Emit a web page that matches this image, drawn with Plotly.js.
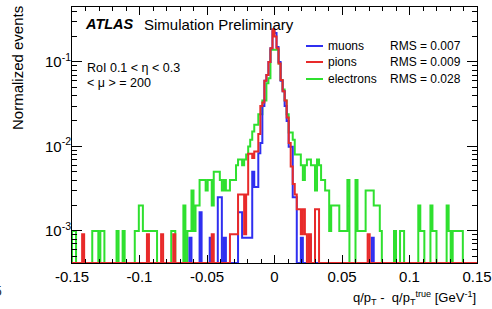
<!DOCTYPE html>
<html>
<head>
<meta charset="utf-8">
<script src="https://cdn.plot.ly/plotly-3.0.1.min.js"></script>
<style>
html,body{margin:0;padding:0;background:#fff;}
#chart{width:492px;height:309px;}
</style>
</head>
<body>
<div id="chart"></div>
<script>
// Histogram binning (q/pT - q/pT^true, GeV^-1)
const xMin = -0.15;
const xMax = 0.15;
const nBins = 200;

// Normalized events per bin
const electrons = [
0.001,0.001,0,0,0,0,0,0,0,0,
0.001,0.001,0.001,0,0.001,0.001,0,0,0,0,
0,0,0.001,0,0,0.001,0,0,0,0,
0,0.001,0.001,0.002,0.002,0.001,0.001,0.001,0.001,0.001,
0.001,0.001,0,0,0,0,0,0,0,0.001,
0.001,0,0,0,0,0.002,0,0.001,0.001,0.003,
0.001,0.002,0.002,0.004,0.004,0.004,0.003,0.004,0.004,0.002,
0.005,0.005,0.005,0.004,0.003,0.004,0.003,0.003,0.004,0.004,
0.004,0.006,0.007,0.007,0.006,0.007,0.008,0.010,0.012,0.015,
0.018,0.018,0.024,0.024,0.035,0.035,0.056,0.064,0.139,0.139,
0.139,0.139,0.096,0.061,0.047,0.035,0.024,0.0146,0.0146,0.012,
0.008,0.008,0.008,0.006,0.004,0.006,0.007,0.007,0.006,0.006,
0.003,0.007,0.006,0.004,0.004,0.003,0.003,0.001,0.002,0.002,
0.002,0.002,0.001,0.001,0.001,0.001,0.004,0,0,0,
0.004,0.001,0.001,0.001,0.001,0.003,0.003,0.003,0.003,0.002,
0.002,0.002,0.001,0,0,0,0,0,0,0.001,
0,0,0.001,0.001,0,0,0,0,0,0,
0,0.002,0.001,0.001,0,0,0,0.002,0.001,0.001,
0,0,0,0,0,0.002,0.001,0,0.001,0.001,
0.001,0.001,0.001,0,0,0,0,0,0,0
];

const pions = [
0,0,0,0,0,0.00091,0,0,0,0,
0,0,0,0,0,0,0,0,0,0,
0,0,0,0,0,0,0,0,0,0,
0,0,0,0,0,0,0,0.00091,0,0,
0,0,0,0,0.00091,0,0,0,0,0,
0.00091,0,0,0,0,0,0,0,0,0,
0,0,0,0,0,0,0,0,0,0.00091,
0,0,0,0,0,0,0,0,0.00091,0.00091,
0.00091,0.00091,0.0027,0.0027,0.0027,0.00091,0.0027,0.0082,0.0082,0.0073,
0.0087,0.0087,0.014,0.030,0.033,0.060,0.070,0.100,0.145,0.244,
0.200,0.145,0.096,0.061,0.045,0.035,0.022,0.011,0.0058,0.0036,
0.0027,0.0018,0.0018,0.00091,0.0018,0.00091,0,0.00091,0,0,
0.0018,0.0018,0,0,0,0,0,0,0,0,
0,0,0,0,0,0,0,0,0,0,
0,0,0,0,0,0,0.00091,0,0,0,
0,0,0,0,0,0,0,0,0,0,
0,0,0,0,0,0,0,0,0,0,
0,0,0,0,0,0,0,0,0,0,
0,0,0,0,0,0,0,0,0,0,
0,0,0,0,0,0,0,0,0,0
];

const muons = [
0,0,0,0,0,0,0,0,0,0,
0,0,0,0,0,0,0,0,0,0,
0,0,0,0,0,0,0,0,0,0,
0,0,0,0,0,0,0,0,0,0,
0,0,0,0,0,0,0,0,0,0,
0,0,0,0,0,0,0,0,0.00083,0,
0,0,0,0.00166,0,0,0,0,0.00083,0,
0,0,0.0025,0.0025,0,0.00083,0,0,0,0,
0,0,0.00166,0.00166,0.00083,0.00083,0.00083,0.00083,0.00083,0.005,
0.0033,0.0033,0.0083,0.011,0.030,0.060,0.070,0.100,0.145,0.230,
0.220,0.150,0.100,0.060,0.045,0.030,0.020,0.0099,0.0099,0.0025,
0.0025,0,0,0.00083,0,0,0,0.00083,0,0,
0,0,0,0,0,0,0,0,0,0,
0,0,0,0,0,0,0,0,0,0,
0,0,0,0,0,0,0,0,0.00083,0,
0,0,0,0,0,0,0,0,0,0,
0,0,0,0,0,0,0,0,0,0,
0,0,0,0,0,0,0,0,0,0,
0,0,0,0,0,0,0,0,0,0,
0,0,0,0,0,0,0,0,0,0
];

const seriesNames = ["muons", "pions", "electrons"];
const rmsLabels = ["RMS = 0.007", "RMS = 0.009", "RMS = 0.028"];
const seriesColors = ["#2f2ff0", "#e82a2a", "#2fe02f"];

const xTickVals = [-0.15, -0.1, -0.05, 0, 0.05, 0.1, 0.15];
const xTickText = ["-0.15", "-0.1", "-0.05", "0", "0.05", "0.1", "0.15"];
const yTickVals = [0.001, 0.01, 0.1];
const yTickText = ["10<sup>-3</sup>", "10<sup>-2</sup>", "10<sup>-1</sup>"];

const yLogRange = [-3.38, -0.35];
const floorVal = Math.pow(10, yLogRange[0]);

function histTrace(vals, name, color) {
  const w = (xMax - xMin) / nBins;
  const xs = [xMin];
  const ys = [floorVal];
  for (let i = 0; i < nBins; i++) {
    xs.push(xMin + i * w);
    ys.push(vals[i] > 0 ? vals[i] : floorVal);
  }
  xs.push(xMax); ys.push(ys[ys.length - 1]);
  xs.push(xMax); ys.push(floorVal);
  return {
    x: xs, y: ys, type: "scatter", mode: "lines", name: name,
    line: {shape: "hv", color: color, width: 2},
    showlegend: false, hoverinfo: "skip"
  };
}

const data = [
  histTrace(electrons, seriesNames[2], seriesColors[2]),
  histTrace(muons, seriesNames[0], seriesColors[0]),
  histTrace(pions, seriesNames[1], seriesColors[1])
];

const W = 492, H = 309;
const L = 72, R = 477, T = 7, B = 263;
function px(x) { return (x - L) / (R - L); }
function py(y) { return (B - y) / (B - T); }

const FONT = "Liberation Sans, Arial, Helvetica, sans-serif";

const annotations = [
  {text: "<b><i>ATLAS</i></b>", x: px(83), y: py(24), xanchor: "left", yanchor: "middle", font: {size: 14.5, color: "#000"}},
  {text: "Simulation Preliminary", x: px(142), y: py(24), xanchor: "left", yanchor: "middle", font: {size: 15, color: "#000"}},
  {text: "RoI 0.1 < η < 0.3", x: px(85), y: py(68), xanchor: "left", yanchor: "middle", font: {size: 12.5, color: "#000"}},
  {text: "< μ > = 200", x: px(85), y: py(83), xanchor: "left", yanchor: "middle", font: {size: 12.5, color: "#000"}},
  {text: "Normalized events", x: px(17), y: py(4), xanchor: "center", yanchor: "top", textangle: -90, font: {size: 15, color: "#000"}},
  {text: "q/p<sub>T</sub> -  q/p<sub>T</sub><sup>true</sup> [GeV<sup>-1</sup>]", x: px(478), y: py(298), xanchor: "right", yanchor: "middle", font: {size: 13, color: "#000"}},
  {text: "5", x: px(4), y: py(291), xanchor: "right", yanchor: "middle", font: {size: 14, color: "#333"}}
];
const shapes = [];
const legendY = [46, 62, 79];
for (let i = 0; i < 3; i++) {
  shapes.push({type: "line", xref: "paper", yref: "paper", x0: px(306), x1: px(323), y0: py(legendY[i]), y1: py(legendY[i]), line: {color: seriesColors[i], width: 2}});
  annotations.push({text: seriesNames[i], x: px(326), y: py(legendY[i]), xanchor: "left", yanchor: "middle", font: {size: 12, color: "#000"}});
  annotations.push({text: rmsLabels[i], x: px(388), y: py(legendY[i]), xanchor: "left", yanchor: "middle", font: {size: 12, color: "#000"}});
}
annotations.forEach(a => { a.xref = "paper"; a.yref = "paper"; a.showarrow = false; });

const layout = {
  width: W, height: H,
  margin: {l: L, r: W - R, t: T, b: H - B, pad: 0},
  paper_bgcolor: "#fff", plot_bgcolor: "#fff",
  font: {family: FONT, color: "#000"},
  showlegend: false,
  xaxis: {
    range: [xMin, xMax], tickmode: "array", tickvals: xTickVals, ticktext: xTickText,
    ticks: "inside", ticklen: 8, tickwidth: 1, tickcolor: "#000",
    minor: {dtick: 0.01, tick0: 0, ticks: "inside", ticklen: 4, tickcolor: "#000", showgrid: false},
    showline: true, linecolor: "#000", linewidth: 1, mirror: "allticks",
    showgrid: false, zeroline: false, tickfont: {size: 15, family: FONT}
  },
  yaxis: {
    type: "log", range: yLogRange, tickmode: "array", tickvals: yTickVals, ticktext: yTickText,
    ticks: "inside", ticklen: 10, tickwidth: 1, tickcolor: "#000",
    minor: {dtick: "D1", ticks: "inside", ticklen: 5, tickcolor: "#000", showgrid: false},
    showline: true, linecolor: "#000", linewidth: 1, mirror: "allticks",
    showgrid: false, zeroline: false, tickfont: {size: 15, family: FONT},
    ticklabelstandoff: -3
  },
  annotations: annotations,
  shapes: shapes
};

Plotly.newPlot("chart", data, layout, {staticPlot: true, displayModeBar: false});
</script>
</body>
</html>
